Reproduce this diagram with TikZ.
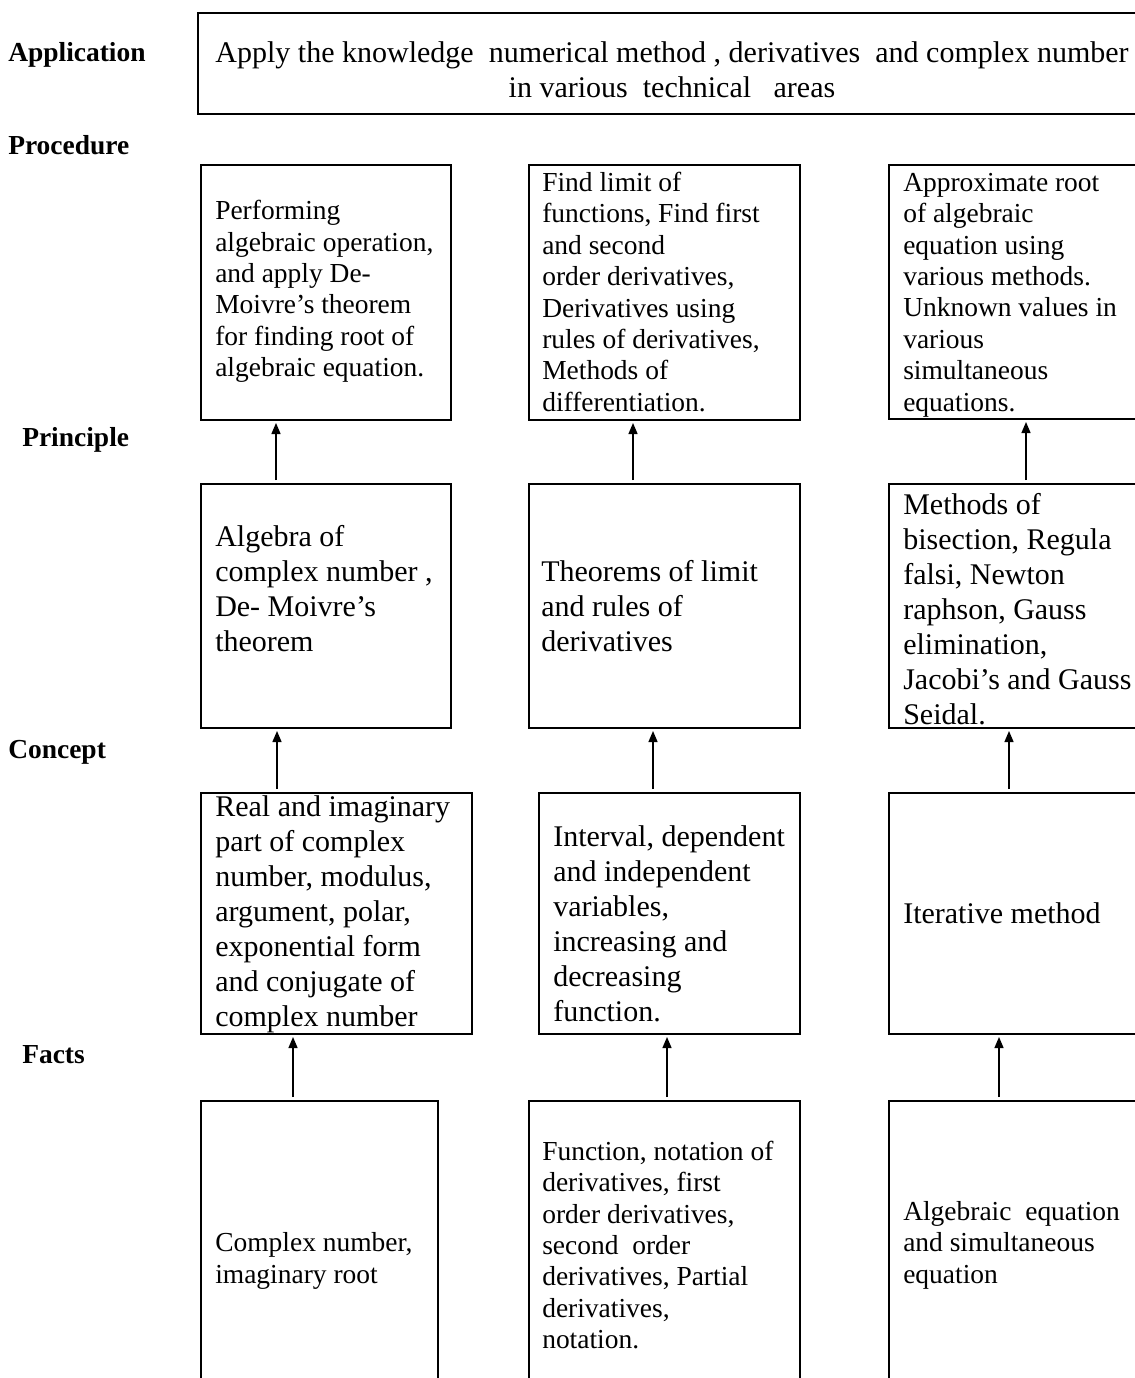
\documentclass[tikz,border=0pt]{standalone}
\usepackage{fontspec}
\setmainfont{Liberation Serif}
\usetikzlibrary{arrows.meta,calc}
\newlength{\upx}\setlength{\upx}{0.75pt}
\begin{document}
\begin{tikzpicture}[x=0.75pt,y=-0.75pt,
  box/.style={draw, line width=1.5pt, rectangle, inner sep=0pt, anchor=north west},
  smalltxt/.style={font=\fontsize{20.6}{23.55}\selectfont, align=left, inner sep=0pt, anchor=west},
  bigtxt/.style={font=\fontsize{22.5}{26.25}\selectfont, align=left, inner sep=0pt, anchor=west},
  lbl/.style={font=\bfseries\fontsize{20.6}{23.55}\selectfont, inner sep=0pt, anchor=base west},
  arr/.style={line width=1pt, -{Triangle[length=8.25pt,width=6.75pt]}, shorten <=2.25pt, shorten >=1.5pt}]
\useasboundingbox (0,0) rectangle (1135,1378);
\clip (0,0) rectangle (1135,1378);
\fill[white] (0,0) rectangle (1135,1378);

% level labels
\node[lbl] (lapp) at (8,61) {Application};
\node[lbl] (lproc) at (8,154) {Procedure};
\node[lbl] (lprin) at (22,446) {Principle};
\node[lbl] (lconc) at (8,758) {Concept};
\node[lbl] (lfact) at (22,1063) {Facts};

% application
\node[box, minimum width=950\upx, minimum height=101\upx] (app) at (197,12) {};
\node[font=\fontsize{22.5}{26.25}\selectfont, align=center, inner sep=0pt] (appt) at (672,70)
  {Apply the knowledge\ \ numerical method , derivatives\ \ and complex number\\in various\ \ technical\ \ \ areas};

% procedure row
\node[box, minimum width=250\upx, minimum height=255\upx] (p1) at (200,164) {};
\node[box, minimum width=271\upx, minimum height=255\upx] (p2) at (528,164) {};
\node[box, minimum width=300\upx, minimum height=254\upx] (p3) at (888,164) {};
\node[smalltxt] (p1t) at ($(p1.north west)+(15,127.5)$) {Performing\\algebraic operation,\\and apply De-\\Moivre’s theorem\\for finding root of\\algebraic equation.};
\node[smalltxt] (p2t) at ($(p2.north west)+(14,128)$) {Find limit of\\functions, Find first\\and second\\order derivatives,\\Derivatives using\\rules of derivatives,\\Methods of\\differentiation.};
\node[smalltxt] (p3t) at ($(p3.north west)+(15,131)$) {Approximate root\\of algebraic\\equation using\\various methods.\\Unknown values in\\various\\simultaneous\\equations.};

% principle row
\node[box, minimum width=250\upx, minimum height=244\upx] (q1) at (200,483) {};
\node[box, minimum width=271\upx, minimum height=244\upx] (q2) at (528,483) {};
\node[box, minimum width=300\upx, minimum height=244\upx] (q3) at (888,483) {};
\node[bigtxt] (q1t) at ($(q1.north west)+(15,106)$) {Algebra of\\complex number ,\\De- Moivre’s\\theorem};
\node[bigtxt] (q2t) at ($(q2.north west)+(13,123)$) {Theorems of limit\\and rules of\\derivatives};
\node[bigtxt] (q3t) at ($(q3.north west)+(15,126)$) {Methods of\\bisection, Regula\\falsi, Newton\\raphson, Gauss\\elimination,\\Jacobi’s and Gauss\\Seidal.};

% concept row
\node[box, minimum width=271\upx, minimum height=241\upx] (c1) at (200,792) {};
\node[box, minimum width=261\upx, minimum height=241\upx] (c2) at (538,792) {};
\node[box, minimum width=300\upx, minimum height=241\upx] (c3) at (888,792) {};
\node[bigtxt] (c1t) at ($(c1.north west)+(15,122.5)$) {Real and imaginary\\part of complex\\number, modulus,\\argument, polar,\\exponential form\\and conjugate of\\complex number};
\node[bigtxt] (c2t) at ($(c2.north west)+(15,132)$) {Interval, dependent\\and independent\\variables,\\increasing and\\decreasing\\function.};
\node[bigtxt] (c3t) at ($(c3.north west)+(15,121)$) {Iterative method};

% facts row
\node[box, minimum width=237\upx, minimum height=320\upx] (f1) at (200,1100) {};
\node[box, minimum width=271\upx, minimum height=320\upx] (f2) at (528,1100) {};
\node[box, minimum width=300\upx, minimum height=320\upx] (f3) at (888,1100) {};
\node[smalltxt] (f1t) at ($(f1.north west)+(15,161)$) {Complex number,\\imaginary root};
\node[smalltxt] (f2t) at ($(f2.north west)+(14,145)$) {Function, notation of\\derivatives, first\\order derivatives,\\second\ \ order\\derivatives, Partial\\derivatives,\\notation.};
\node[smalltxt] (f3t) at ($(f3.north west)+(15,145)$) {Algebraic\ \ equation\\and simultaneous\\equation};

% arrow columns
\coordinate (a1) at (276,0);
\coordinate (a2) at (633,0);
\coordinate (a3) at (1026,0);
\coordinate (b1) at (277,0);
\coordinate (b2) at (653,0);
\coordinate (b3) at (1009,0);
\coordinate (d1) at (293,0);
\coordinate (d2) at (667,0);
\coordinate (d3) at (999,0);

\draw[arr] (q1.north -| a1) -- (p1.south -| a1);
\draw[arr] (q2.north -| a2) -- (p2.south -| a2);
\draw[arr] (q3.north -| a3) -- (p3.south -| a3);
\draw[arr] (c1.north -| b1) -- (q1.south -| b1);
\draw[arr] (c2.north -| b2) -- (q2.south -| b2);
\draw[arr] (c3.north -| b3) -- (q3.south -| b3);
\draw[arr] (f1.north -| d1) -- (c1.south -| d1);
\draw[arr] (f2.north -| d2) -- (c2.south -| d2);
\draw[arr] (f3.north -| d3) -- (c3.south -| d3);
\end{tikzpicture}
\end{document}
